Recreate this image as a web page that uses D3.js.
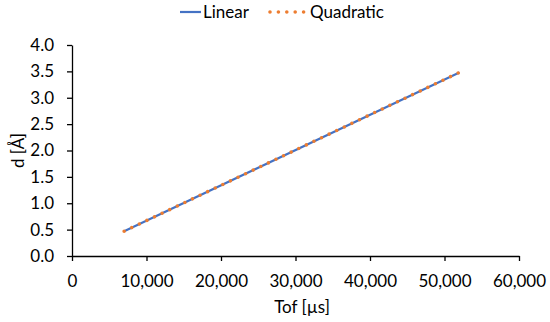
<!DOCTYPE html>
<head>
  <meta charset="utf-8">
  <title>d vs Tof</title>
  <script src="https://d3js.org/d3.v7.min.js"></script>
  <style>
    body { margin: 0; background: #fff; }
    text { font-family: Lato, "Open Sans", sans-serif; fill: #000; }
    .axis path, .axis line { stroke: #000; stroke-width: 1.3; }
    .axis text { font-size: 17px; font-family: Lato, "Open Sans", sans-serif; }
  </style>
</head>
<body>
  <script>
    // data
    var tof = [7000, 52000],
        linearD = [0.47, 3.48],
        quadraticD = [0.47, 3.48],
        xTicks = [0, 10000, 20000, 30000, 40000, 50000, 60000],
        yTicks = [0, 0.5, 1, 1.5, 2, 2.5, 3, 3.5, 4];

    var width = 550,
        height = 322,
        svg = d3.select("body").append("svg")
          .attr("width", width)
          .attr("height", height);

    var x = d3.scaleLinear().domain([0, 60000]).range([72, 519]),
        y = d3.scaleLinear().domain([0, 4]).range([256, 45]);

    var xAxis = svg.append("g")
      .attr("class", "axis")
      .attr("transform", "translate(0," + y(0) + ")")
      .call(d3.axisBottom(x).tickValues(xTicks).tickSize(5).tickPadding(14)
        .tickSizeOuter(0).tickFormat(d3.format(",")));

    var yAxis = svg.append("g")
      .attr("class", "axis")
      .attr("transform", "translate(" + x(0) + ",0)")
      .call(d3.axisLeft(y).tickValues(yTicks).tickSize(5).tickPadding(13)
        .tickSizeOuter(0).tickFormat(d3.format(".1f")));

    var line = d3.line()
      .x(function(d) { return x(d[0]); })
      .y(function(d) { return y(d[1]); });

    svg.append("path")
      .datum(d3.zip(tof, linearD))
      .attr("d", line)
      .attr("fill", "none")
      .attr("stroke", "#4472C4")
      .attr("stroke-width", 2.2);

    svg.append("path")
      .datum(d3.zip(tof, quadraticD))
      .attr("d", line)
      .attr("fill", "none")
      .attr("stroke", "#ED7D31")
      .attr("stroke-width", 3.6)
      .attr("stroke-linecap", "round")
      .attr("stroke-dasharray", "0,8.4");

    // axis titles
    svg.append("text")
      .attr("x", 302)
      .attr("y", 313)
      .attr("text-anchor", "middle")
      .attr("font-size", "17px")
      .text("Tof [\u00b5s]");

    svg.append("text")
      .attr("transform", "translate(24," + y(2) + ") rotate(-90)")
      .attr("text-anchor", "middle")
      .attr("font-size", "17px")
      .text("d [\u00c5]");

    // legend
    var legend = svg.append("g");
    legend.append("line")
      .attr("x1", 180).attr("x2", 201).attr("y1", 12).attr("y2", 12)
      .attr("stroke", "#4472C4").attr("stroke-width", 2.2);
    legend.append("text")
      .attr("x", 203).attr("y", 18)
      .attr("font-size", "17px")
      .text("Linear");
    legend.append("line")
      .attr("x1", 270).attr("x2", 306).attr("y1", 12).attr("y2", 12)
      .attr("stroke", "#ED7D31").attr("stroke-width", 3.6)
      .attr("stroke-linecap", "round")
      .attr("stroke-dasharray", "0,8.4");
    legend.append("text")
      .attr("x", 310).attr("y", 18)
      .attr("font-size", "17px")
      .text("Quadratic");
  </script>
</body>
